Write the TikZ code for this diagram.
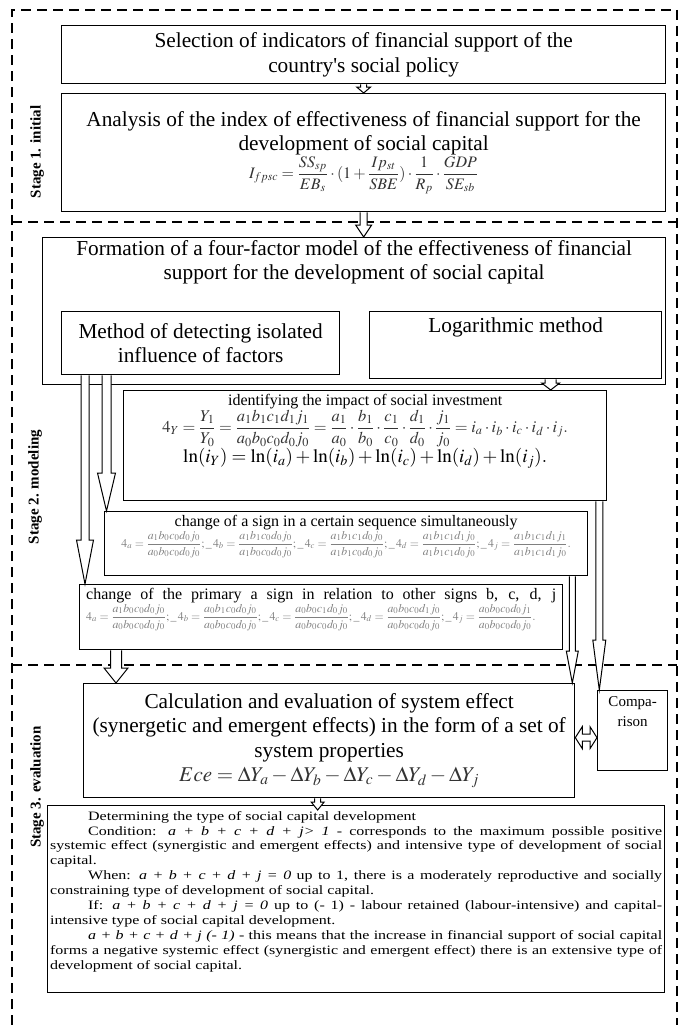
\documentclass[tikz,border=0pt]{standalone}
\usepackage{mathptmx}
\usepackage{fontspec}
\setmainfont{Liberation Serif}
\usepackage{xcolor}
\usetikzlibrary{positioning, calc}

% hollow block arrow pointing down: start, end, shaft half width, head half width, head length
\newcommand{\hollowdown}[5]{%
  \draw[hollow] let \p1=(#1), \p2=(#2) in
    (\x1-#3pt,\y1) -- (\x1-#3pt,\y2+#5pt) -- (\x1-#4pt,\y2+#5pt) -- (\x1,\y2)
    -- (\x1+#4pt,\y2+#5pt) -- (\x1+#3pt,\y2+#5pt) -- (\x1+#3pt,\y1);}
% hollow block arrow with a head at both ends (left/right)
\newcommand{\hollowboth}[5]{%
  \draw[hollow] let \p1=(#1), \p2=(#2) in
    (\x1,\y1) -- (\x1+#5pt,\y1+#4pt) -- (\x1+#5pt,\y1+#3pt) -- (\x2-#5pt,\y1+#3pt)
    -- (\x2-#5pt,\y1+#4pt) -- (\x2,\y1) -- (\x2-#5pt,\y1-#4pt) -- (\x2-#5pt,\y1-#3pt)
    -- (\x1+#5pt,\y1-#3pt) -- (\x1+#5pt,\y1-#4pt) -- cycle;}

\begin{document}
\begin{tikzpicture}[
    x=1pt, y=-1pt,
    box/.style={draw, line width=1.3pt, inner sep=2pt, align=center, anchor=north west},
    txt/.style={inner sep=1pt, align=center},
    big/.style={font=\fontsize{21.3}{24.5}\selectfont},
    mid/.style={font=\fontsize{16}{18}\selectfont},
    stage/.style={font=\fontsize{15}{17}\selectfont\bfseries, rotate=90},
    hollow/.style={draw, fill=white, line width=1pt, line join=miter},
    stageline/.style={line width=2.2pt, dash pattern=on 10pt off 6pt},
]
\useasboundingbox (0,0) rectangle (680,1025);

% --- Dashed frame of the three stages
\draw[stageline] (12,1025) -- (12,10) -- (677,10) -- (677,1025);
\draw[stageline] (12,222) -- (677,222);
\draw[stageline] (12,665) -- (677,665);

% --- Stage 1
\node[box, big, minimum width=604pt, minimum height=58pt] (select) at (61,25)
    {Selection of indicators of financial support of the\\country\textquotesingle s social policy};
\node[box, big, minimum width=604pt, minimum height=118pt] (analysis) at (61,93)
    {Analysis of the index of effectiveness of financial support for the\\development of social capital\\
     {\fontsize{16}{18}\selectfont\color{black!80}$\displaystyle I_{fpsc}=\frac{SS_{sp}}{EB_s}\cdot(1+\frac{Ip_{st}}{SBE})\cdot\frac{1}{R_p}\cdot\frac{GDP}{SE_{sb}}$}};

% --- Stage 2
\node[box, minimum width=623pt, minimum height=147pt] (formation) at (42,237) {};
\node[txt, big, below=2pt of formation.north] (formtitle)
    {Formation of a four-factor model of the effectiveness of financial\\support for the development of social capital};
\node[box, big, minimum width=278pt, minimum height=63pt] (method) at (61,311)
    {Method of detecting isolated\\influence of factors};
\node[box, minimum width=292pt, minimum height=67pt] (logm) at (369,311) {};
\node[txt, big, below=6pt of logm.north] (logtitle) {Logarithmic method};

\node[box, minimum width=483pt, minimum height=110pt] (ident) at (123,390) {};
\node[txt, mid, below=3pt of ident.north] (identtext)
    {identifying the impact of social investment\\
     {\fontsize{16.5}{18}\selectfont\color{black!80}$\displaystyle 4_{Y}=\frac{Y_1}{Y_0}=\frac{a_1b_1c_1d_1j_1}{a_0b_0c_0d_0j_0}=\frac{a_1}{a_0}\cdot\frac{b_1}{b_0}\cdot\frac{c_1}{c_0}\cdot\frac{d_1}{d_0}\cdot\frac{j_1}{j_0}=i_a\cdot i_b\cdot i_c\cdot i_d\cdot i_j.$}\\
     {\fontsize{19}{21}\selectfont$\ln(i_Y)=\ln(i_a)+\ln(i_b)+\ln(i_c)+\ln(i_d)+\ln(i_j).$}};

\node[box, minimum width=483pt, minimum height=64pt] (change) at (104,511) {};
\node[txt, mid, below=3pt of change.north] (changetext)
    {change of a sign in a certain sequence simultaneously\\
     {\fontsize{11.8}{13}\selectfont\color{gray}$\displaystyle 4_a=\frac{a_1b_0c_0d_0j_0}{a_0b_0c_0d_0j_0};\_\,4_b=\frac{a_1b_1c_0d_0j_0}{a_1b_0c_0d_0j_0};\_\,4_c=\frac{a_1b_1c_1d_0j_0}{a_1b_1c_0d_0j_0};\_\,4_d=\frac{a_1b_1c_1d_1j_0}{a_1b_1c_1d_0j_0};\_\,4_j=\frac{a_1b_1c_1d_1j_1}{a_1b_1c_1d_1j_0}.$}};

\node[box, minimum width=483pt, minimum height=65pt] (primary) at (79,584) {};
\node[txt, mid, below=3pt of primary.north] (primarytext)
    {\makebox[470pt][s]{change of the primary a sign in relation to other signs b, c, d, j}\\
     \makebox[470pt][l]{\fontsize{11.8}{13}\selectfont\color{gray}$\displaystyle 4_a=\frac{a_1b_0c_0d_0j_0}{a_0b_0c_0d_0j_0};\_\,4_b=\frac{a_0b_1c_0d_0j_0}{a_0b_0c_0d_0j_0};\_\,4_c=\frac{a_0b_0c_1d_0j_0}{a_0b_0c_0d_0j_0};\_\,4_d=\frac{a_0b_0c_0d_1j_0}{a_0b_0c_0d_0j_0};\_\,4_j=\frac{a_0b_0c_0d_0j_1}{a_0b_0c_0d_0j_0}.$}};

% --- Stage 3
\node[box, big, minimum width=491pt, minimum height=114pt] (calc) at (83,683)
    {Calculation and evaluation of system effect\\(synergetic and emergent effects) in the form of a set of\\system properties\\
     {\fontsize{21}{24}\selectfont\color{black!80}$Ece=\Delta Y_a-\Delta Y_b-\Delta Y_c-\Delta Y_d-\Delta Y_j$}};
\node[box, minimum width=70pt, minimum height=80pt] (comp) at (597,690) {};
\node[txt, font=\fontsize{15}{20}\selectfont, below=5pt of comp.north] (comptext) {Compa-\\rison};

\node[box, minimum width=617pt, minimum height=187pt] (detail) at (47,805) {};
\node[txt, below=5pt of detail.north] (detailtext)
    {\scalebox{1}[0.8]{\parbox{612pt}{\fontsize{16}{18.6}\selectfont
     \hspace*{38pt}Determining the type of social capital development\par
     \hspace*{38pt}Condition: \textit{a + b + c + d + j> 1} - corresponds to the maximum possible positive\linebreak
     systemic effect (synergistic and emergent effects) and intensive type of development of social\linebreak
     capital.\par
     \hspace*{38pt}When: \textit{a + b + c + d + j = 0} up to 1, there is a moderately reproductive and socially\linebreak
     constraining type of development of social capital.\par
     \hspace*{38pt}If: \textit{a + b + c + d + j = 0} up to (- 1) - labour retained (labour-intensive) and capital-\linebreak
     intensive type of social capital development.\par
     \hspace*{38pt}\textit{a + b + c + d + j (- 1)} - this means that the increase in financial support of social capital\linebreak
     forms a negative systemic effect (synergistic and emergent effect) there is an extensive type of\linebreak
     development of social capital.}}};

% --- Stage labels
\node[stage] (stage1) at (37,152) {Stage 1. initial};
\node[stage] (stage2) at (35,487) {Stage 2. modeling};
\node[stage] (stage3) at (37,787) {Stage 3. evaluation};

% --- Block arrows
\hollowdown{select.south}{analysis.north}{3}{7}{6}
\hollowdown{analysis.south}{formation.north}{3.5}{8}{12}
\hollowdown{[xshift=35pt]logm.south}{ident.north}{5.5}{9}{7}
\hollowdown{[xshift=45.5pt]method.south west}{change.north}{4.5}{9}{38}
\hollowdown{[xshift=24pt]method.south west}{primary.north}{4}{8.5}{44}
\hollowdown{[xshift=37pt]primary.south west}{calc.north}{5.5}{12}{15}
\hollowdown{[xshift=-16pt]change.south east}{calc.north}{3}{6}{32}
\hollowdown{[xshift=-8pt]ident.south east}{comp.north}{3.5}{6.5}{50}
\hollowdown{[xshift=-11.5pt]calc.south}{[yshift=-5pt]detail.north}{3}{6.5}{8}
\hollowboth{[yshift=3pt]calc.east}{comp.west}{3.5}{11}{7}

\end{tikzpicture}
\end{document}
